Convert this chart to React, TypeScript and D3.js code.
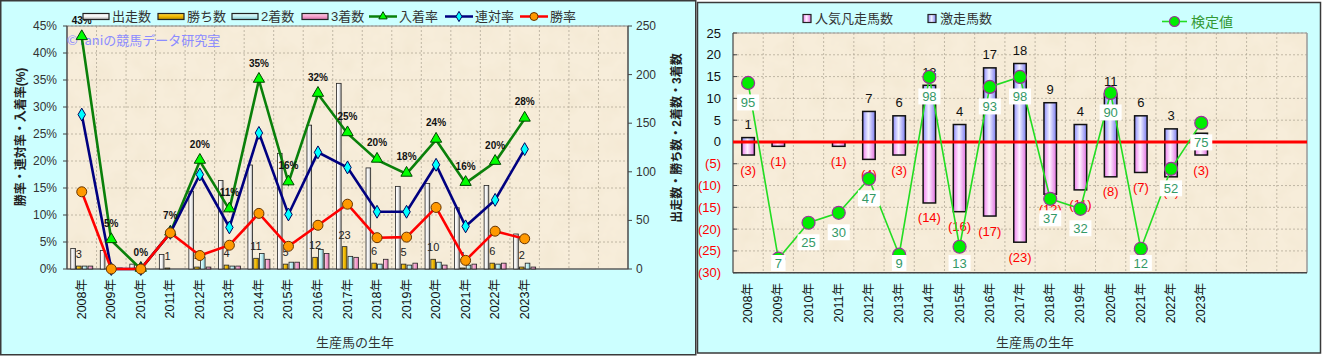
import React from 'react';
import * as d3 from 'd3';

// ---------- data ----------
const years = ['2008年','2009年','2010年','2011年','2012年','2013年','2014年','2015年','2016年','2017年','2018年','2019年','2020年','2021年','2022年','2023年'];
const emptySlots = ['_s1','_s2','_s3'];

// left chart (counts on right axis)
const runners = [21,19,5,15,80,91,107,119,148,191,104,85,88,63,86,36];
const wins    = [3,0,0,1,2,4,11,5,12,23,6,5,10,1,6,2];
const seconds = [3,0,0,0,12,3,16,7,20,13,5,4,7,4,5,6];
const thirds  = [3,1,0,0,2,3,10,7,16,12,10,6,4,5,6,2];
// rates (left axis)
const placeRate    = [0.429,0.053,0,0.067,0.200,0.110,0.350,0.160,0.324,0.251,0.202,0.176,0.239,0.159,0.198,0.278];
const quinellaRate = [0.286,0,0,0.067,0.175,0.077,0.252,0.101,0.216,0.188,0.106,0.106,0.193,0.079,0.128,0.222];
const winRate      = [0.143,0,0,0.067,0.025,0.044,0.103,0.042,0.081,0.120,0.058,0.059,0.114,0.016,0.070,0.056];
const leftPctTicks = [0,0.05,0.10,0.15,0.20,0.25,0.30,0.35,0.40,0.45];
const rightCountTicks = [0,50,100,150,200,250];

// right chart
const hitCount  = [1,0,0,0,7,6,13,4,17,18,9,4,11,6,3,2];     // 激走馬数
const flopCount = [3,1,0,1,4,3,14,16,17,23,12,11,8,7,8,3];   // 人気凡走馬数
const testValue = [95,7,25,30,47,9,98,13,93,98,37,32,90,12,52,75]; // 検定値
const rightTicks = [-30,-25,-20,-15,-10,-5,0,5,10,15,20,25];

const FONT = '"Liberation Sans","Noto Sans CJK JP",sans-serif';

function Paper({ x, y, w, h }: { x: number; y: number; w: number; h: number }) {
  return (
    <g>
      <rect x={x} y={y} width={w} height={h} fill="#f7edda" />
      <rect x={x} y={y} width={w} height={h} filter="url(#paper)" />
    </g>
  );
}

function LeftChart() {
  const X0 = 67, X1 = 628, Y0 = 26, Y1 = 269;
  const x = d3.scaleBand<string>().domain([...years, ...emptySlots]).range([X0, X1]);
  const bw = x.bandwidth();
  const cx = (i: number) => (x(years[i]) as number) + bw / 2;
  const yL = d3.scaleLinear().domain([0, 0.45]).range([Y1, Y0]);
  const yR = d3.scaleLinear().domain([0, 250]).range([Y1, Y0]);
  const barSeries = [
    { key: '出走数', values: runners, grad: 'url(#gRun)' },
    { key: '勝ち数', values: wins, grad: 'url(#gWin)' },
    { key: '2着数', values: seconds, grad: 'url(#gSec)' },
    { key: '3着数', values: thirds, grad: 'url(#gThi)' },
  ];
  const inner = d3.scaleBand<string>().domain(barSeries.map(s => s.key)).range([-11, 11]).paddingInner(0.2);
  const lineGen = d3.line<number>().x((_, i) => cx(i)).y(d => yL(d));
  const tri = d3.symbol().type(d3.symbolTriangle).size(55)() as string;
  const dia = d3.symbol().type(d3.symbolDiamond).size(48)() as string;
  const pct = d3.format('.0%');
  const gridX = d3.range(1, years.length + emptySlots.length).map(i => X0 + i * bw);

  return (
    <g fontFamily={FONT}>
      <rect x={0.75} y={0.75} width={695} height={354} fill="#ccffff" stroke="#3a3a3a" strokeWidth={1.5} />
      <Paper x={X0} y={Y0} w={X1 - X0} h={Y1 - Y0} />
      {/* grid */}
      {gridX.map((gx, i) => (
        <line key={'gx' + i} x1={gx} x2={gx} y1={Y0} y2={Y1} stroke="#b3aa98" strokeDasharray="2,2" strokeWidth={0.8} />
      ))}
      {leftPctTicks.slice(1).map(t => (
        <line key={'gy' + t} x1={X0} x2={X1} y1={yL(t)} y2={yL(t)} stroke="#b3aa98" strokeDasharray="2,2" strokeWidth={0.8} />
      ))}
      <rect x={X0} y={Y0} width={X1 - X0} height={Y1 - Y0} fill="none" stroke="#8a8a8a" />
      <line x1={X0} x2={X0} y1={Y0} y2={Y1} stroke="#444" strokeWidth={1.2} />
      <line x1={X1} x2={X1} y1={Y0} y2={Y1} stroke="#444" strokeWidth={1.2} />
      <line x1={X0} x2={X1} y1={Y1} y2={Y1} stroke="#444" strokeWidth={1.2} />
      {/* watermark */}
      <text x={X0} y={39} fontSize={13} fill="#8c8cff" dominantBaseline="central" fontFamily='"Noto Sans CJK JP",sans-serif'>©Taniの競馬データ研究室</text>
      {/* axes labels */}
      {leftPctTicks.map(t => (
        <g key={'lt' + t}>
          <line x1={X0 - 4} x2={X0} y1={yL(t)} y2={yL(t)} stroke="#444" />
          <text x={57} y={yL(t)} textAnchor="end" dominantBaseline="central" fontSize={12} fill="#333">{pct(t)}</text>
        </g>
      ))}
      {rightCountTicks.map(t => (
        <g key={'rt' + t}>
          <line x1={X1} x2={X1 + 4} y1={yR(t)} y2={yR(t)} stroke="#444" />
          <text x={636} y={yR(t)} textAnchor="start" dominantBaseline="central" fontSize={12} fill="#333">{t}</text>
        </g>
      ))}
      {years.map((yv, i) => (
        <text key={'xl' + i} transform={`translate(${cx(i)},279) rotate(-90)`} textAnchor="end" dominantBaseline="central" fontSize={12.5} fill="#111">{yv}</text>
      ))}
      <text x={355} y={342} textAnchor="middle" dominantBaseline="central" fontSize={13} fill="#333">生産馬の生年</text>
      <text transform="translate(21,137) rotate(-90)" textAnchor="middle" dominantBaseline="central" fontSize={12} fontWeight="bold" fill="#222">勝率・連対率・入着率(%)</text>
      <text transform="translate(677,138) rotate(-90)" textAnchor="middle" dominantBaseline="central" fontSize={12} fontWeight="bold" fill="#222">出走数・勝ち数・2着数・3着数</text>
      {/* bars */}
      {barSeries.map(s => s.values.map((v, i) => (
        v > 0 ? <rect key={s.key + i} x={cx(i) + (inner(s.key) as number)} y={yR(v)} width={inner.bandwidth()} height={Y1 - yR(v)} fill={s.grad} stroke="#222" strokeWidth={0.8} /> : null
      )))}
      {wins.map((v, i) => v > 0 ? (
        <text key={'wl' + i} x={cx(i) + (inner('勝ち数') as number) + inner.bandwidth() / 2} y={yR(v) - 12} textAnchor="middle" dominantBaseline="central" fontSize={11} fill="#222">{v}</text>
      ) : null)}
      {/* lines */}
      <path d={lineGen(placeRate) as string} fill="none" stroke="#0a800a" strokeWidth={2.6} />
      <path d={lineGen(quinellaRate) as string} fill="none" stroke="#000080" strokeWidth={2.6} />
      <path d={lineGen(winRate) as string} fill="none" stroke="#ff0000" strokeWidth={2.6} />
      {placeRate.map((v, i) => (
        <path key={'pm' + i} d={tri} transform={`translate(${cx(i)},${yL(v) - 1})`} fill="#00ff00" stroke="#004400" strokeWidth={1} />
      ))}
      {quinellaRate.map((v, i) => (
        <path key={'qm' + i} d={dia} transform={`translate(${cx(i)},${yL(v)})`} fill="#00ffff" stroke="#000060" strokeWidth={1} />
      ))}
      {winRate.map((v, i) => (
        <circle key={'wm' + i} cx={cx(i)} cy={yL(v)} r={5} fill="#ff9900" stroke="#663300" strokeWidth={1} />
      ))}
      {placeRate.map((v, i) => (
        <text key={'pl' + i} x={cx(i)} y={yL(v) - 17} textAnchor="middle" dominantBaseline="central" fontSize={10} fontWeight="bold" fill="#111">{pct(v)}</text>
      ))}
      {/* legend */}
      <LeftLegend />
    </g>
  );
}

function LeftLegend() {
  const y = 16.5;
  const bars = [
    { label: '出走数', x: 83, fill: 'url(#gRunH)' },
    { label: '勝ち数', x: 158, fill: 'url(#gWinH)' },
    { label: '2着数', x: 232, fill: 'url(#gSecH)' },
    { label: '3着数', x: 302, fill: 'url(#gThiH)' },
  ];
  const tri = d3.symbol().type(d3.symbolTriangle).size(30)() as string;
  const dia = d3.symbol().type(d3.symbolDiamond).size(30)() as string;
  const lines = [
    { label: '入着率', x: 369, color: '#0a800a', mark: 'tri' },
    { label: '連対率', x: 445, color: '#000080', mark: 'dia' },
    { label: '勝率', x: 520, color: '#ff0000', mark: 'cir' },
  ];
  return (
    <g>
      {bars.map(b => (
        <g key={b.label}>
          <rect x={b.x} y={y - 3} width={26} height={6} fill={b.fill} stroke="#222" strokeWidth={1.2} />
          <text x={b.x + 29} y={y} dominantBaseline="central" fontSize={13} fill="#333">{b.label}</text>
        </g>
      ))}
      {lines.map(l => (
        <g key={l.label}>
          <line x1={l.x} x2={l.x + 28} y1={y} y2={y} stroke={l.color} strokeWidth={2.5} />
          {l.mark === 'tri' && <path d={tri} transform={`translate(${l.x + 14},${y})`} fill="#00ff00" stroke="#004400" />}
          {l.mark === 'dia' && <path d={dia} transform={`translate(${l.x + 14},${y})`} fill="#00ffff" stroke="#000060" />}
          {l.mark === 'cir' && <circle cx={l.x + 14} cy={y} r={4} fill="#ff9900" stroke="#663300" />}
          <text x={l.x + 30} y={y} dominantBaseline="central" fontSize={13} fill="#333">{l.label}</text>
        </g>
      ))}
    </g>
  );
}

function RightChart() {
  const X0 = 733, X1 = 1307, Y0 = 33, Y1 = 272.7;
  const x = d3.scaleBand<string>().domain([...years, ...emptySlots]).range([X0, X1]);
  const bw = x.bandwidth();
  const cx = (i: number) => (x(years[i]) as number) + bw / 2;
  const y = d3.scaleLinear().domain([-30, 25]).range([Y1, Y0]);
  const yT = d3.scaleLinear().domain([0, 120]).range([Y1, Y0]);
  const barW = 12.5;
  const gridX = d3.range(1, years.length + emptySlots.length).map(i => X0 + i * bw);
  const lineGen = d3.line<number>().x((_, i) => cx(i)).y(d => yT(d));
  const y0 = y(0);
  return (
    <g fontFamily={FONT}>
      <rect x={697.5} y={2.5} width={623} height={350.5} fill="#ccffff" stroke="#3a3a3a" strokeWidth={1.5} />
      <Paper x={X0} y={Y0} w={X1 - X0} h={Y1 - Y0} />
      {gridX.map((gx, i) => (
        <line key={'gx' + i} x1={gx} x2={gx} y1={Y0} y2={Y1} stroke="#b3aa98" strokeDasharray="2,2" strokeWidth={0.8} />
      ))}
      {rightTicks.map(t => (
        <line key={'gy' + t} x1={X0} x2={X1} y1={y(t)} y2={y(t)} stroke="#b3aa98" strokeDasharray="2,2" strokeWidth={0.8} />
      ))}
      <line x1={X1} x2={X1} y1={Y0} y2={Y1} stroke="#999" strokeWidth={1.5} />
      <line x1={X0} x2={X1} y1={Y0} y2={Y0} stroke="#999" strokeWidth={1} />
      <line x1={X0} x2={X0} y1={Y0} y2={Y1} stroke="#444" strokeWidth={1.2} />
      <line x1={X0} x2={X1} y1={Y1} y2={Y1} stroke="#444" strokeWidth={1.5} />
      {rightTicks.map(t => (
        <g key={'tk' + t}>
          <line x1={X0} x2={X0 + 4} y1={y(t)} y2={y(t)} stroke="#444" />
          <text x={721} y={y(t)} textAnchor="end" dominantBaseline="central" fontSize={13} fill={t < 0 ? '#ff0000' : '#111'}>{t < 0 ? `(${-t})` : t}</text>
        </g>
      ))}
      {years.map((yv, i) => (
        <text key={'xl' + i} transform={`translate(${cx(i)},283) rotate(-90)`} textAnchor="end" dominantBaseline="central" fontSize={12.5} fill="#111">{yv}</text>
      ))}
      <text x={1035} y={342} textAnchor="middle" dominantBaseline="central" fontSize={13} fill="#333">生産馬の生年</text>
      {/* bars */}
      {hitCount.map((v, i) => v > 0 ? (
        <rect key={'hb' + i} x={cx(i) - barW / 2} y={y(v)} width={barW} height={y0 - y(v)} fill="url(#gBlue)" stroke="#111" strokeWidth={1.5} />
      ) : null)}
      {flopCount.map((v, i) => v > 0 ? (
        <rect key={'fb' + i} x={cx(i) - barW / 2} y={y0} width={barW} height={y(-v) - y0} fill="url(#gPink)" stroke="#111" strokeWidth={1.5} />
      ) : null)}
      <line x1={X0} x2={X1} y1={y0} y2={y0} stroke="#ff0000" strokeWidth={3} />
      {hitCount.map((v, i) => v > 0 ? (
        <text key={'hl' + i} x={cx(i)} y={y(v) - 13} textAnchor="middle" dominantBaseline="central" fontSize={13} fill="#111">{v}</text>
      ) : null)}
      {flopCount.map((v, i) => v > 0 ? (
        <text key={'fl' + i} x={cx(i)} y={y(-v) + 15} textAnchor="middle" dominantBaseline="central" fontSize={13} fill="#ff0000">{`(${v})`}</text>
      ) : null)}
      <path d={lineGen(testValue) as string} fill="none" stroke="#22dd22" strokeWidth={1.6} />
      {testValue.map((v, i) => (
        <circle key={'tm' + i} cx={cx(i)} cy={yT(v)} r={6.5} fill="#00ee00" stroke="#993399" strokeWidth={1.2} />
      ))}
      {testValue.map((v, i) => {
        const cy = Math.min(yT(v) + 19.5, 263);
        const w = String(v).length * 7.5 + 7;
        return (
          <g key={'tl' + i}>
            <rect x={cx(i) - w / 2} y={cy - 8} width={w} height={16} fill="#ffffff" />
            <text x={cx(i)} y={cy} textAnchor="middle" dominantBaseline="central" fontSize={13} fill="#339966">{v}</text>
          </g>
        );
      })}
      {/* legend */}
      <rect x={803} y={14.5} width={8} height={8} fill="url(#gPink)" stroke="#222" strokeWidth={1.2} />
      <text x={815} y={18.5} dominantBaseline="central" fontSize={13} fill="#333">人気凡走馬数</text>
      <rect x={928} y={14.5} width={8} height={8} fill="url(#gBlue)" stroke="#222" strokeWidth={1.2} />
      <text x={940} y={18.5} dominantBaseline="central" fontSize={13} fill="#333">激走馬数</text>
      <line x1={1162} x2={1187} y1={21.5} y2={21.5} stroke="#22dd22" strokeWidth={1.6} />
      <circle cx={1174.5} cy={21.5} r={5} fill="#00ee00" stroke="#993399" strokeWidth={1.2} />
      <text x={1191} y={21.5} dominantBaseline="central" fontSize={14} fill="#339933">検定値</text>
    </g>
  );
}

function Grad({ id, stops, vertical }: { id: string; stops: [number, string][]; vertical?: boolean }) {
  return (
    <linearGradient id={id} x1="0" y1="0" x2={vertical ? '0' : '1'} y2={vertical ? '1' : '0'}>
      {stops.map(([o, c], i) => <stop key={i} offset={o} stopColor={c} />)}
    </linearGradient>
  );
}

export default function App() {
  return (
    <svg width={1322} height={356} style={{ position: 'absolute', left: 0, top: 0 }} xmlns="http://www.w3.org/2000/svg">
      <defs>
        <filter id="paper" x="0" y="0" width="1" height="1">
          <feTurbulence type="fractalNoise" baseFrequency="0.045" numOctaves={3} seed={4} />
          <feColorMatrix type="matrix" values="0 0 0 0 0.80  0 0 0 0 0.70  0 0 0 0 0.50  0.4 0 0 0 -0.15" />
        </filter>
        <Grad id="gRun" stops={[[0, '#ffffff'], [0.5, '#f4f4f4'], [1, '#a8a8a8']]} />
        <Grad id="gWin" stops={[[0, '#ffd84a'], [0.5, '#f0b800'], [1, '#b88a00']]} />
        <Grad id="gSec" stops={[[0, '#e8ffff'], [0.5, '#bfeef2'], [1, '#86c8d0']]} />
        <Grad id="gThi" stops={[[0, '#ffd0e8'], [0.5, '#f4a0cc'], [1, '#d070a8']]} />
        <Grad id="gRunH" vertical stops={[[0, '#ffffff'], [0.5, '#f4f4f4'], [1, '#a8a8a8']]} />
        <Grad id="gWinH" vertical stops={[[0, '#ffd84a'], [0.5, '#f0b800'], [1, '#b88a00']]} />
        <Grad id="gSecH" vertical stops={[[0, '#e8ffff'], [0.5, '#bfeef2'], [1, '#86c8d0']]} />
        <Grad id="gThiH" vertical stops={[[0, '#ffd0e8'], [0.5, '#f4a0cc'], [1, '#d070a8']]} />
        <Grad id="gBlue" stops={[[0, '#8c8cff'], [0.45, '#f2f2ff'], [1, '#7a7af0']]} />
        <Grad id="gPink" stops={[[0, '#f080f0'], [0.45, '#fff0ff'], [1, '#e070e0']]} />
      </defs>
      <LeftChart />
      <RightChart />
    </svg>
  );
}
